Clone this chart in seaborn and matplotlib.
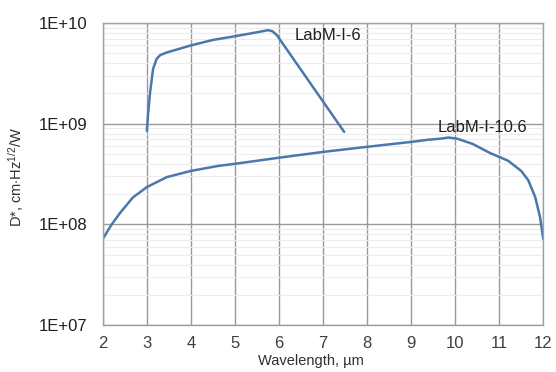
import numpy as np
import pandas as pd
import matplotlib
matplotlib.use("Agg")
import matplotlib.pyplot as plt
import seaborn as sns

# LabM-I-6 detector curve
wl_6 = [3.0, 3.03, 3.07, 3.14, 3.22, 3.3, 3.45, 4.0, 4.5, 5.0, 5.5, 5.75, 5.85, 5.95, 7.48]
d_6 = [8.5e8, 1.3e9, 2.0e9, 3.5e9, 4.4e9, 4.8e9, 5.1e9, 6.0e9, 6.8e9, 7.4e9, 8.1e9, 8.5e9, 8.3e9, 7.6e9, 8.3e8]

# LabM-I-10.6 detector curve
wl_106 = [2.0, 2.2, 2.39, 2.68, 3.0, 3.45, 4.0, 4.6, 5.0, 6.0, 7.0, 8.0, 9.0, 9.4, 9.66, 9.85,
          10.05, 10.4, 10.8, 11.2, 11.5, 11.66, 11.82, 11.93, 12.0]
d_106 = [7.2e7, 1.0e8, 1.3e8, 1.85e8, 2.35e8, 2.95e8, 3.4e8, 3.8e8, 4.0e8, 4.6e8, 5.25e8, 5.9e8,
         6.6e8, 6.95e8, 7.1e8, 7.3e8, 7.1e8, 6.3e8, 5.1e8, 4.3e8, 3.4e8, 2.75e8, 1.86e8, 1.17e8, 7.2e7]

x_ticks = list(range(2, 13))
y_ticks = [1e7, 1e8, 1e9, 1e10]
y_ticklabels = ["1E+07", "1E+08", "1E+09", "1E+10"]

df = pd.concat([
    pd.DataFrame({"wl": wl_6, "D": d_6, "det": "LabM-I-6"}),
    pd.DataFrame({"wl": wl_106, "D": d_106, "det": "LabM-I-10.6"}),
])

sns.set_style("white")
plt.rcParams["font.family"] = ["Liberation Sans", "DejaVu Sans"]
plt.rcParams["mathtext.fontset"] = "custom"
plt.rcParams["mathtext.rm"] = "Liberation Sans"
plt.rcParams["mathtext.it"] = "Liberation Sans"

fig = plt.figure(figsize=(5.56, 3.72), dpi=100)
ax = fig.add_axes([0.185, 0.126, 0.792, 0.812])

line_color = "#4a78ad"
sns.lineplot(data=df, x="wl", y="D", units="det", estimator=None, sort=False,
             color=line_color, linewidth=1.8, ax=ax, legend=False)

ax.set_yscale("log")
ax.set_xlim(2, 12)
ax.set_ylim(1e7, 1e10)
ax.set_xticks(x_ticks)
ax.set_yticks(y_ticks)
ax.set_yticklabels(y_ticklabels)
ax.minorticks_on()
ax.xaxis.set_minor_locator(matplotlib.ticker.NullLocator())
ax.tick_params(which="both", length=0)
ax.tick_params(axis="x", pad=8, labelsize=12, labelcolor="#404040")
ax.tick_params(axis="y", pad=11, labelsize=12, labelcolor="#202020")

ax.grid(which="major", color="#9a9a9a", linewidth=1.0)
ax.grid(which="minor", axis="y", color="#ececec", linewidth=0.8)
ax.set_axisbelow(True)
for s in ax.spines.values():
    s.set_color("#a0a0a0")
    s.set_linewidth(1.0)

ax.set_xlabel("Wavelength, µm", fontsize=10.5, color="#303030")
ax.xaxis.set_label_coords(0.473, -0.095)
ax.set_ylabel(r"D*, cm$\cdot$Hz$^{1/2}$/W", fontsize=10.5, color="#303030")
ax.yaxis.set_label_coords(-0.175, 0.49)

ax.text(6.36, 10 ** 9.88, "LabM-I-6", fontsize=12, va="center", ha="left", color="#202020")
ax.text(9.61, 10 ** 8.96, "LabM-I-10.6", fontsize=12, va="center", ha="left", color="#202020")

fig.savefig("out.png", dpi=100)
